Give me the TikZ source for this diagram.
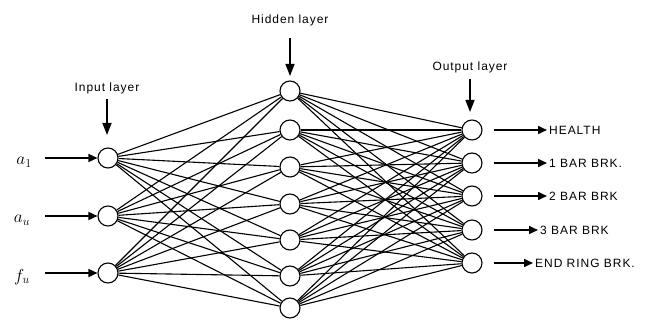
\documentclass[tikz,border=0pt]{standalone}
\usepackage{fontspec}
\setmainfont{Liberation Sans}
\usetikzlibrary{arrows.meta}
\begin{document}
\begin{tikzpicture}[x=1pt,y=-1pt,
  neuron/.style={circle,draw,line width=1.1pt,minimum size=20pt,inner sep=0pt,fill=white},
  conn/.style={line width=1.1pt},
  arr/.style={line width=1.6pt,-{Triangle[length=9pt,width=8pt]}},
  tarr/.style={line width=1.6pt,-{Triangle[length=12pt,width=9pt]}},
  lbl/.style={font=\fontsize{12}{14}\selectfont\addfontfeature{LetterSpace=8},inner sep=0pt},
  inl/.style={font=\LARGE,inner sep=0pt}]
\useasboundingbox (0,0) rectangle (646,323);
% input neurons
\node[neuron] (i1) at (108,158) {};
\node[neuron] (i2) at (108,216) {};
\node[neuron] (i3) at (108,273) {};
% hidden neurons
\foreach \k/\y in {1/91,2/130,3/167,4/204,5/240,6/276,7/308}
  \node[neuron] (h\k) at (290,\y) {};
% output neurons
\foreach \k/\y in {1/130,2/163,3/196,4/230,5/263}
  \node[neuron] (o\k) at (472,\y) {};
% connections
\foreach \i in {1,2,3}
  \foreach \h in {1,...,7}
    \draw[conn] (i\i) -- (h\h);
\foreach \h in {1,...,7}
  \foreach \o in {1,...,5}
    \draw[conn] (h\h) -- (o\o);
% input arrows and labels
\coordinate (s1) at (45,158);
\coordinate (s2) at (45,216);
\coordinate (s3) at (45,273);
\draw[arr] (s1) -- (i1);
\draw[arr] (s2) -- (i2);
\draw[arr] (s3) -- (i3);
\node[inl] (l1) at (24,162) {$a_1$};
\node[inl] (l2) at (22,220) {$a_u$};
\node[inl] (l3) at (22,277) {$f_u$};
% output arrows and labels
\node[lbl,anchor=west] (t1) at (549,130) {HEALTH};
\node[lbl,anchor=west] (t2) at (549,163) {1 BAR BRK.};
\node[lbl,anchor=west] (t3) at (549,196) {2 BAR BRK};
\node[lbl,anchor=west] (t4) at (540,230) {3 BAR BRK};
\node[lbl,anchor=west] (t5) at (535,263) {END RING BRK.};
\foreach \k in {1,...,5}{
  \path (o\k.east) ++(11,0) coordinate (u\k);
  \draw[arr,shorten >=2pt] (u\k) -- (t\k.west);
}
% layer titles
\node[lbl] (tin) at (107,88) {Input layer};
\node[lbl] (thid) at (290,20) {Hidden layer};
\node[lbl] (tout) at (470,67) {Output layer};
\coordinate (ain) at (107,135);
\coordinate (ahid) at (290,76);
\coordinate (aout) at (470,112);
\draw[tarr,shorten <=5pt] (tin) -- (ain);
\draw[tarr,shorten <=12pt] (thid) -- (ahid);
\draw[tarr,shorten <=6pt] (tout) -- (aout);
\end{tikzpicture}
\end{document}
